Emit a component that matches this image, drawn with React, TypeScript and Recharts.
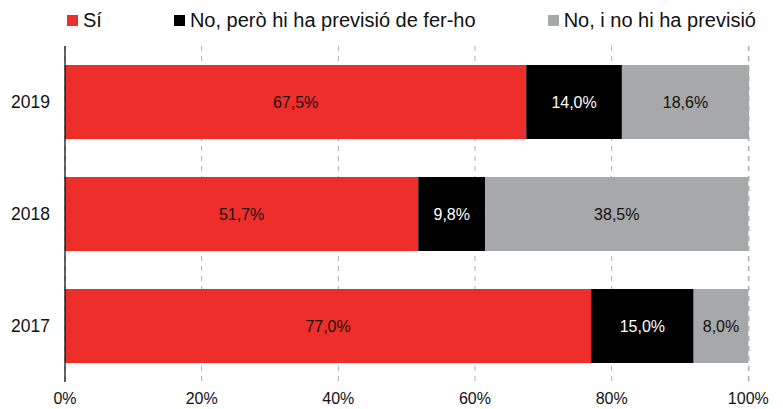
import React from "react";
import { BarChart, Bar, XAxis, YAxis, CartesianGrid, LabelList } from "recharts";

const years = ["2019", "2018", "2017"];
const si = [67.5, 51.7, 77.0];
const noPerdoPrevisio = [14.0, 9.8, 15.0];
const noSensePrevisio = [18.6, 38.5, 8.0];
const xTicks = [0, 20, 40, 60, 80, 100];

const seriesNames = ["Sí", "No, però hi ha previsió de fer-ho", "No, i no hi ha previsió"];
const colors = ["#EE2E2A", "#000000", "#A7A8AA"];
const labelColors = ["#111111", "#ffffff", "#111111"];
const keys = ["si", "noPrev", "noNo"];

const data = years.map((y, i) => ({
  year: y,
  si: si[i],
  noPrev: noPerdoPrevisio[i],
  noNo: noSensePrevisio[i],
}));

const fmt = (v: any) => `${Number(v).toFixed(1).replace(".", ",")}%`;
const FONT = "'Liberation Sans', Arial, sans-serif";

export default function App() {
  return (
    <div style={{ position: "absolute", left: 0, top: 0, width: 783, height: 409, background: "#fff", fontFamily: FONT }}>
      <div
        style={{
          position: "absolute",
          left: 67,
          top: 6,
          display: "flex",
          alignItems: "center",
          gap: 72,
          fontSize: 20,
          color: "#111",
          whiteSpace: "nowrap",
          height: 28,
        }}
      >
        {seriesNames.map((n, i) => (
          <div key={n} style={{ display: "flex", alignItems: "center" }}>
            <span style={{ display: "inline-block", width: 11, height: 11, background: colors[i], marginRight: 5 }} />
            <span>{n}</span>
          </div>
        ))}
      </div>
      <BarChart
        width={783}
        height={409}
        data={data}
        layout="vertical"
        margin={{ top: 46, right: 34, bottom: 0, left: 0 }}
        barCategoryGap="17%"
        style={{ fontFamily: FONT }}
      >
        <CartesianGrid horizontal={false} stroke="#b0b0b0" strokeDasharray="5 5" />
        <XAxis
          type="number"
          domain={[0, 100]}
          ticks={xTicks}
          tickFormatter={(v: number) => `${v}%`}
          axisLine={false}
          tickLine={false}
          tickMargin={5}
          height={27}
          interval={0}
          tick={{ fill: "#111", fontSize: 16 }}
        />
        <YAxis
          type="category"
          dataKey="year"
          width={65}
          axisLine={{ stroke: "#000", strokeWidth: 1.2 }}
          tickLine={false}
          tickMargin={9}
          tick={{ fill: "#111", fontSize: 17.5 }}
        />
        {keys.map((k, i) => (
          <Bar key={k} dataKey={k} stackId="a" fill={colors[i]} isAnimationActive={false}>
            <LabelList dataKey={k} position="center" formatter={fmt} fill={labelColors[i]} fontSize={16} />
          </Bar>
        ))}
      </BarChart>
    </div>
  );
}
